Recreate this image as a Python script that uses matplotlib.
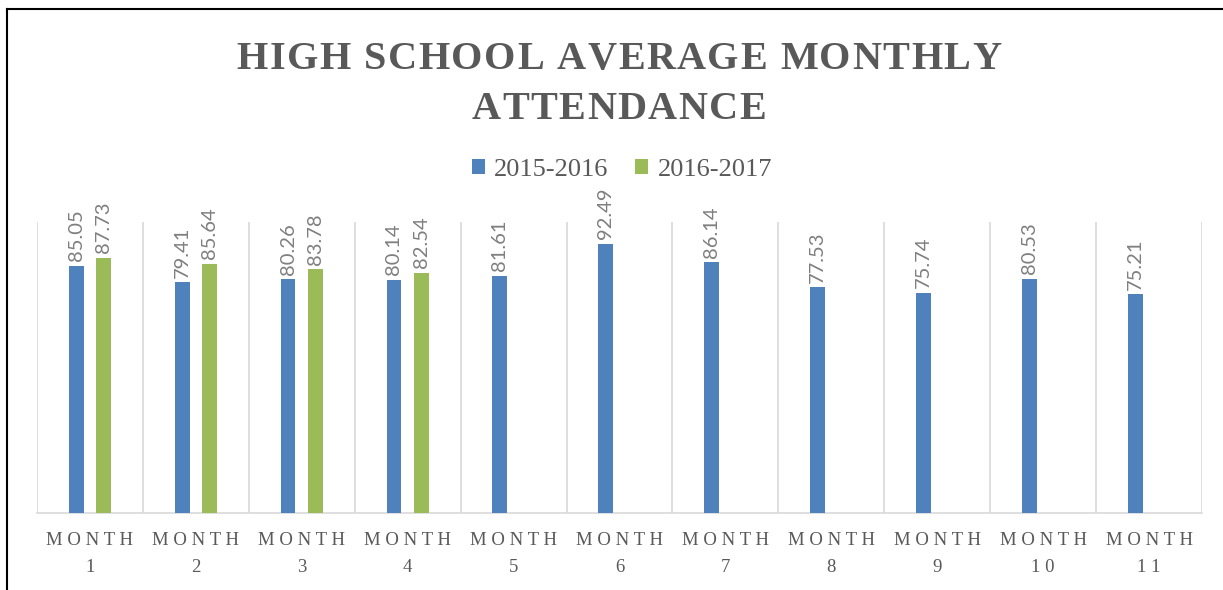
import matplotlib.pyplot as plt
from matplotlib.lines import Line2D
import numpy as np

months = ["MONTH\n1", "MONTH\n2", "MONTH\n3", "MONTH\n4", "MONTH\n5", "MONTH\n6",
          "MONTH\n7", "MONTH\n8", "MONTH\n9", "MONTH\n10", "MONTH\n11"]
y2015 = [85.05, 79.41, 80.26, 80.14, 81.61, 92.49, 86.14, 77.53, 75.74, 80.53, 75.21]
y2016 = [87.73, 85.64, 83.78, 82.54]
title_lines = ["HIGH SCHOOL AVERAGE MONTHLY", "ATTENDANCE"]

BLUE = "#4f81bd"
GREEN = "#9bbb59"
TXT = "#595959"
GRID = "#d9d9d9"
W, H = 1223, 590


def spaced(s, sep=" "):
    # fake letter spacing, line by line
    return "\n".join(sep.join(list(line)) for line in s.split("\n"))


def tracked(fig, xc, yb, s, track, **kw):
    # draw a line of text char by char with extra spacing (pixels), centred at xc
    r = fig.canvas.get_renderer()
    widths = []
    for ch in s:
        if ch == " ":
            widths.append(kw["fontsize"] * 100 / 72 * 0.25)
        else:
            t = fig.text(0, 0, ch, **kw)
            widths.append(t.get_window_extent(r).width)
            t.remove()
    total = sum(widths) + track * (len(s) - 1)
    xp = xc - total / 2
    for ch, wd in zip(s, widths):
        if ch != " ":
            fig.text(xp / W, 1 - yb / H, ch, ha="left", va="baseline", **kw)
        xp += wd + track


fig = plt.figure(figsize=(12.23, 5.90), dpi=100)
ax = fig.add_axes([37 / W, 1 - 513 / H, 1165 / W, 291 / H])

x = np.arange(len(months))
w = 0.14
off = 0.13
ax.bar(x - off, y2015, width=w, color=BLUE, label="2015-2016", zorder=3)
ax.bar(x[:len(y2016)] + off, y2016, width=w, color=GREEN, label="2016-2017", zorder=3)

for xi, v in zip(x - off, y2015):
    ax.text(xi, v + 1.5, f"{v:.2f}", rotation=90, ha="center", va="bottom",
            fontsize=14.5, color="#7f7f7f", family="Lato")
for xi, v in zip(x[:len(y2016)] + off, y2016):
    ax.text(xi, v + 1.5, f"{v:.2f}", rotation=90, ha="center", va="bottom",
            fontsize=14.5, color="#7f7f7f", family="Lato")

ax.set_xlim(-0.5, len(months) - 0.5)
ax.set_ylim(0, 100)
for b in np.arange(-0.5, len(months) + 0.5, 1):
    ax.axvline(b, color=GRID, lw=1.2, zorder=1)
ax.set_yticks([])
ax.set_xticks(x)
ax.set_xticklabels([spaced(m) for m in months], family="Liberation Serif",
                   fontsize=13.5, color=TXT, linespacing=1.75)
ax.tick_params(axis="x", length=0, pad=14)
for s in ["top", "right", "left"]:
    ax.spines[s].set_visible(False)
ax.spines["bottom"].set_color(GRID)
ax.spines["bottom"].set_linewidth(1.2)

tstyle = dict(family="Liberation Serif", fontweight="bold", fontsize=29, color=TXT)
tracked(fig, 619, 69, title_lines[0], 1.5, **tstyle)
tracked(fig, 619, 119, title_lines[1], 1.5, **tstyle)

leg = fig.legend(loc="center", bbox_to_anchor=(622 / W, 1 - 170 / H), ncol=2,
                 frameon=False, prop={"family": "Liberation Serif", "size": 19},
                 handlelength=0.5, handleheight=0.5, handletextpad=0.35,
                 columnspacing=1.0)
for t in leg.get_texts():
    t.set_color(TXT)

# outer frame (top and left edges visible)
fig.add_artist(Line2D([6.5 / W, 1], [1 - 8.5 / H, 1 - 8.5 / H],
                      transform=fig.transFigure, color="black", lw=1.5))
fig.add_artist(Line2D([6.5 / W, 6.5 / W], [0, 1 - 8.5 / H],
                      transform=fig.transFigure, color="black", lw=1.5))

fig.savefig("out.png", dpi=100)
